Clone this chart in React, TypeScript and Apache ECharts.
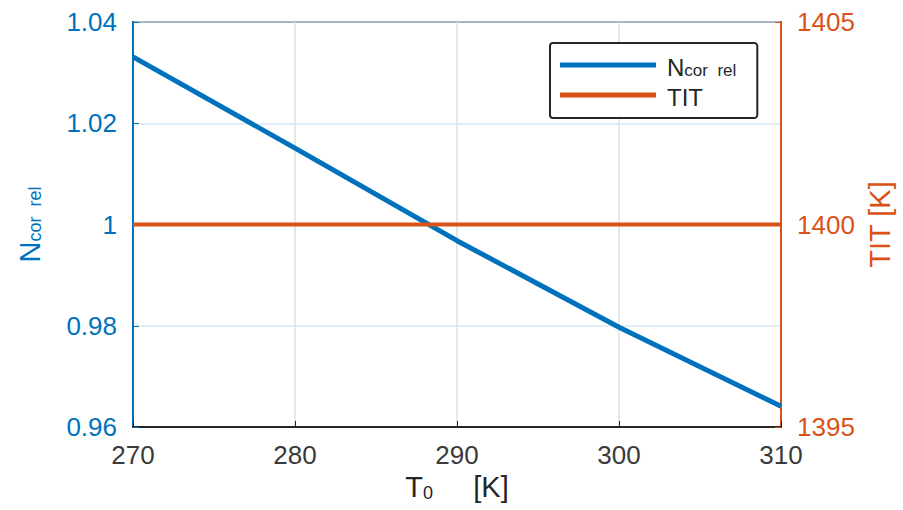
import React, { useEffect, useRef } from "react";
import * as echarts from "echarts";

const T0 = [270, 280, 290, 300, 310];
const nCorRel = [1.0331, 1.0151, 0.9968, 0.9797, 0.9641];
const tit = [1400, 1400, 1400, 1400, 1400];

const BLUE = "#0072BD";
const ORANGE = "#D95319";
const DARK = "#262626";
const FONT = "Liberation Sans, Arial, sans-serif";

export default function App() {
  const ref = useRef<HTMLDivElement>(null);
  useEffect(() => {
    if (!ref.current) return;
    const chart = echarts.init(ref.current, null, { renderer: "svg" });
    chart.setOption({
      animation: false,
      backgroundColor: "#fff",
      textStyle: { fontFamily: FONT },
      grid: {
        left: 133,
        right: 122,
        top: 22,
        bottom: 83,
        show: true,
        borderColor: DARK,
        borderWidth: 2,
        backgroundColor: "#fff",
      },
      legend: {
        orient: "vertical",
        left: 550,
        top: 43,
        padding: [12, 21, 9, 10],
        itemGap: 6,
        itemWidth: 96,
        itemHeight: 5,
        icon: "rect",
        borderColor: DARK,
        borderWidth: 2,
        borderRadius: 3,
        backgroundColor: "#fff",
        data: ["N", "TIT"],
        formatter: (name: string) => (name === "N" ? "{n|N}{s|cor  rel}" : "{n|TIT}"),
        textStyle: {
          color: DARK,
          fontFamily: FONT,
          rich: {
            n: { fontSize: 24, color: DARK, fontFamily: FONT, verticalAlign: "bottom", lineHeight: 28, padding: [0, 0, 0, 6] },
            s: { fontSize: 17, color: DARK, fontFamily: FONT, verticalAlign: "bottom", lineHeight: 22 },
          },
        },
      },
      xAxis: {
        type: "value",
        min: 270,
        max: 310,
        interval: 10,
        name: "{n|T}{s|0}{n|     [K]}",
        nameLocation: "middle",
        nameGap: 42,
        nameTextStyle: {
          rich: {
            n: { fontSize: 29, color: DARK, fontFamily: FONT, verticalAlign: "bottom", lineHeight: 32 },
            s: { fontSize: 18, color: DARK, fontFamily: FONT, verticalAlign: "bottom", lineHeight: 24 },
          },
        },
        axisLine: { show: true, lineStyle: { color: DARK, width: 2 } },
        axisTick: { show: true, inside: true, length: 6, lineStyle: { color: DARK } },
        axisLabel: { color: "#3a3a3a", fontSize: 26, margin: 15, fontFamily: FONT },
        splitLine: { show: true, lineStyle: { color: "#dfdfdf", width: 1.5 } },
      },
      yAxis: [
        {
          type: "value",
          position: "left",
          min: 0.96,
          max: 1.04,
          interval: 0.02,
          name: "{n|N}{s|cor  rel}",
          nameLocation: "middle",
          nameRotate: 90,
          nameGap: 89,
          nameTextStyle: {
            rich: {
              n: { fontSize: 29, color: BLUE, fontFamily: FONT, verticalAlign: "bottom", lineHeight: 32 },
              s: { fontSize: 18, color: BLUE, fontFamily: FONT, verticalAlign: "bottom", lineHeight: 24 },
            },
          },
          axisLine: { show: true, onZero: false, lineStyle: { color: BLUE, width: 2 } },
          axisTick: { show: true, inside: true, length: 6, lineStyle: { color: BLUE } },
          axisLabel: {
            color: BLUE,
            fontSize: 26,
            margin: 16,
            fontFamily: FONT,
            formatter: (v: number) => String(parseFloat(v.toFixed(2))),
          },
          splitLine: { show: true, lineStyle: { color: "#d9e7f3", width: 1.5 } },
        },
        {
          type: "value",
          position: "right",
          min: 1395,
          max: 1405,
          interval: 5,
          name: "TIT [K]",
          nameLocation: "middle",
          nameRotate: 90,
          nameGap: 82,
          nameTextStyle: { color: ORANGE, fontSize: 29, fontFamily: FONT },
          axisLine: { show: true, onZero: false, lineStyle: { color: ORANGE, width: 2 } },
          axisTick: { show: true, inside: true, length: 6, lineStyle: { color: ORANGE } },
          axisLabel: {
            color: ORANGE,
            fontSize: 26,
            margin: 16,
            fontFamily: FONT,
            formatter: (v: number) => String(v),
          },
          splitLine: { show: false },
        },
      ],
      series: [
        {
          name: "N",
          type: "line",
          yAxisIndex: 0,
          data: T0.map((t, i) => [t, nCorRel[i]]),
          showSymbol: false,
          smooth: false,
          lineStyle: { color: BLUE, width: 5 },
          itemStyle: { color: BLUE },
          z: 3,
        },
        {
          name: "TIT",
          type: "line",
          yAxisIndex: 1,
          data: T0.map((t, i) => [t, tit[i]]),
          showSymbol: false,
          lineStyle: { color: ORANGE, width: 4 },
          itemStyle: { color: ORANGE },
          z: 4,
        },
      ],
    });
    return () => chart.dispose();
  }, []);
  return <div ref={ref} style={{ width: 903, height: 510, position: "absolute", left: 0, top: 0 }} />;
}
